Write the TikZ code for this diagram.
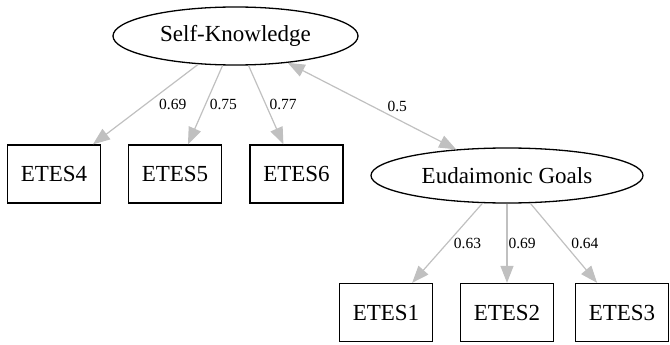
\documentclass[tikz,border=0pt]{standalone}
\usepackage{fontspec}
\setmainfont{Liberation Serif}
\usetikzlibrary{arrows.meta,shapes.geometric}
\definecolor{edgegray}{HTML}{C0C0C0}
\tikzset{
  latent/.style={ellipse,draw,line width=1.3pt,inner sep=0pt,font=\fontsize{23}{26}\selectfont},
  indic/.style={rectangle,draw,line width=1.3pt,minimum width=93pt,minimum height=58pt,inner sep=0pt,font=\fontsize{23}{26}\selectfont},
  load/.style={draw=edgegray,line width=1.2pt,-{Triangle[length=17pt,width=13pt]}},
  cov/.style={draw=edgegray,line width=1.2pt,{Triangle[length=17pt,width=13pt]}-{Triangle[length=17pt,width=13pt]}},
  lbl/.style={font=\fontsize{15.5}{18}\selectfont,inner sep=0pt,anchor=west}
}
\begin{document}
\begin{tikzpicture}[x=1pt,y=-1pt]
\useasboundingbox (0,0) rectangle (670,345);

\node[latent,minimum width=245pt,minimum height=58pt] (sk) at (235.5,36) {Self-Knowledge};
\node[latent,minimum width=272pt,minimum height=55pt] (eg) at (507,175.5) {Eudaimonic Goals};

\node[indic] (e4) at (54,174) {ETES4};
\node[indic] (e5) at (175,174) {ETES5};
\node[indic] (e6) at (296.5,174) {ETES6};
\node[indic] (e1) at (386,312.5) {ETES1};
\node[indic] (e2) at (507,312.5) {ETES2};
\node[indic] (e3) at (622,312.5) {ETES3};

\draw[load] (sk) -- node[lbl,pos=0.5,xshift=13pt] {0.69} (e4);
\draw[load] (sk) -- node[lbl,pos=0.5,xshift=4pt] {0.75} (e5);
\draw[load] (sk) -- node[lbl,pos=0.5,xshift=3pt] {0.77} (e6);
\draw[cov] (sk) -- node[lbl,pos=0.5,xshift=15pt] {0.5} (eg);

\draw[load] (eg) -- node[lbl,pos=0.5,xshift=6pt] {0.63} (e1);
\draw[load] (eg) -- node[lbl,pos=0.5,xshift=1pt] {0.69} (e2);
\draw[load] (eg) -- node[lbl,pos=0.5,xshift=7pt] {0.64} (e3);
\end{tikzpicture}
\end{document}
